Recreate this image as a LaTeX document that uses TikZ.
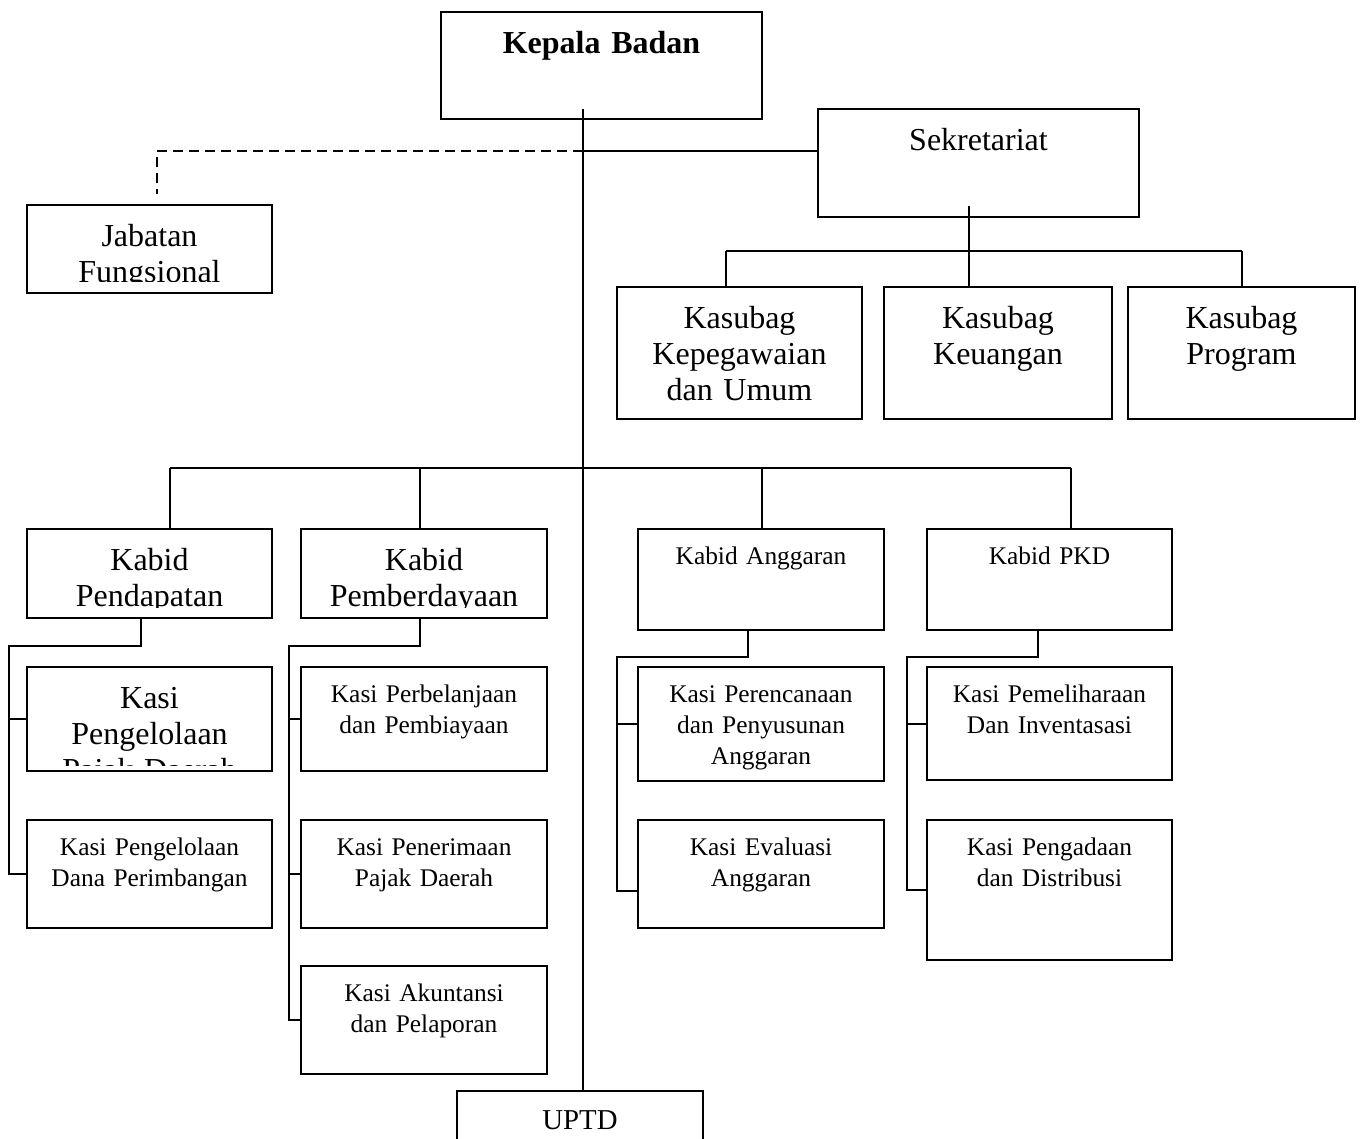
\documentclass[tikz,border=0pt]{standalone}
\usepackage{fontspec}
\setmainfont{Liberation Serif}
\usetikzlibrary{fit}

\tikzset{
  sisa/.store in=\sisa, sisa=5.5pt,
  kotak/.style={draw, line width=1.1pt, inner sep=0pt},
  garis/.style={line width=1pt},
  putus/.style={line width=1pt, dash pattern=on 5pt off 3pt},
  tulis/.style n args={3}{path picture={
      \clip ([yshift=\sisa]path picture bounding box.south west)
        rectangle (path picture bounding box.north east);
      \node[anchor=base, align=center, inner sep=0pt, font=#1]
        at ([yshift=-#2]path picture bounding box.north) {#3};}},
  besar/.style={tulis={\fontsize{16}{18}\selectfont}{20.8pt}{#1}},
  kecil/.style={tulis={\fontsize{12.7}{15.5}\selectfont}{17.5pt}{#1}},
}

\begin{document}
\begin{tikzpicture}[x=0.5pt, y=-0.5pt]
  \path[use as bounding box] (0,0) rectangle (1365,1139);
  \clip (0,0) rectangle (1365,1139);

  % kotak-kotak
  \node[kotak, fit={(441,12) (762,119)}, besar={\textbf{Kepala Badan}}] (kepala) {};
  \node[kotak, fit={(27,205) (272,293)}, besar={Jabatan\\Fungsional}] (jabatan) {};
  \node[kotak, fit={(818,109) (1139,217)}, besar={Sekretariat}] (sek) {};
  \node[kotak, fit={(617,287) (862,419)},
    besar={Kasubag\\Kepegawaian\\dan Umum}] (kasubag1) {};
  \node[kotak, fit={(884,287) (1112,419)}, besar={Kasubag\\Keuangan}] (kasubag2) {};
  \node[kotak, fit={(1128,287) (1355,419)}, besar={Kasubag\\Program}] (kasubag3) {};

  \node[kotak, fit={(27,529) (272,618)}, besar={Kabid\\Pendapatan}] (kabid1) {};
  \node[kotak, fit={(301,529) (547,618)}, besar={Kabid\\Pemberdayaan}] (kabid2) {};
  \node[kotak, fit={(638,529) (884,630)}, kecil={Kabid Anggaran}] (kabid3) {};
  \node[kotak, fit={(927,529) (1172,630)}, kecil={Kabid PKD}] (kabid4) {};

  \node[kotak, fit={(27,667) (272,771)}, sisa=3pt,
    besar={Kasi\\Pengelolaan\\Pajak Daerah}] (kasi11) {};
  \node[kotak, fit={(27,820) (272,928)},
    kecil={Kasi Pengelolaan\\Dana Perimbangan}] (kasi12) {};
  \node[kotak, fit={(301,667) (547,771)},
    kecil={Kasi Perbelanjaan\\dan Pembiayaan}] (kasi21) {};
  \node[kotak, fit={(301,820) (547,928)},
    kecil={Kasi Penerimaan\\Pajak Daerah}] (kasi22) {};
  \node[kotak, fit={(301,966) (547,1074)},
    kecil={Kasi Akuntansi\\dan Pelaporan}] (kasi23) {};
  \node[kotak, fit={(638,667) (884,781)},
    kecil={Kasi Perencanaan\\dan Penyusunan\\Anggaran}] (kasi31) {};
  \node[kotak, fit={(638,820) (884,928)},
    kecil={Kasi Evaluasi\\Anggaran}] (kasi32) {};
  \node[kotak, fit={(927,667) (1172,780)},
    kecil={Kasi Pemeliharaan\\Dan Inventasasi}] (kasi41) {};
  \node[kotak, fit={(927,820) (1172,960)},
    kecil={Kasi Pengadaan\\dan Distribusi}] (kasi42) {};

  \node[kotak, fit={(457,1091) (703,1170)},
    tulis={\fontsize{14.4}{16}\selectfont}{19pt}{UPTD}] (uptd) {};

  % garis pokok
  \coordinate (p0) at (583,109);
  \coordinate (p1) at (583,151);
  \coordinate (p2) at (583,468);
  \coordinate (jf) at (157,194);
  \draw[garis] (p0) -- (uptd.north -| p0);
  \draw[putus] (p1) -| (jf);
  \draw[garis] (p1) -- (p1 -| sek.west);

  % sekretariat
  \coordinate (s0) at (969,206);
  \coordinate (s1) at (969,251);
  \coordinate (a1) at (726,251);
  \coordinate (a3) at (1242,251);
  \draw[garis] (s0) -- (s1);
  \draw[garis] (a1) -- (a3);
  \foreach \a/\k in {a1/kasubag1, s1/kasubag2, a3/kasubag3}
    \draw[garis] (\a) -- (\a |- \k.north);

  % bidang
  \coordinate (b1) at (170,468);
  \coordinate (b2) at (420,468);
  \coordinate (b3) at (762,468);
  \coordinate (b4) at (1071,468);
  \draw[garis] (b1) -- (b4);
  \foreach \b/\k in {b1/kabid1, b2/kabid2, b3/kabid3, b4/kabid4}
    \draw[garis] (\b) -- (\b |- \k.north);

  % seksi
  \coordinate (r1) at (141,646);  \coordinate (q1) at (9,646);
  \coordinate (r2) at (420,646);  \coordinate (q2) at (289,646);
  \coordinate (r3) at (748,657);  \coordinate (q3) at (617,657);
  \coordinate (r4) at (1038,657); \coordinate (q4) at (907,657);
  \coordinate (t32) at (617,891);

  \draw[garis] (r1 |- kabid1.south) -- (r1) -- (q1) -- (q1 |- kasi12.west) -- (kasi12.west);
  \draw[garis] (q1 |- kasi11.west) -- (kasi11.west);

  \draw[garis] (r2 |- kabid2.south) -- (r2) -- (q2) -- (q2 |- kasi23.west) -- (kasi23.west);
  \draw[garis] (q2 |- kasi21.west) -- (kasi21.west);
  \draw[garis] (q2 |- kasi22.west) -- (kasi22.west);

  \draw[garis] (r3 |- kabid3.south) -- (r3) -- (q3) -- (t32) -- (t32 -| kasi32.west);
  \draw[garis] (q3 |- kasi31.west) -- (kasi31.west);

  \draw[garis] (r4 |- kabid4.south) -- (r4) -- (q4) -- (q4 |- kasi42.west) -- (kasi42.west);
  \draw[garis] (q4 |- kasi41.west) -- (kasi41.west);
\end{tikzpicture}
\end{document}
